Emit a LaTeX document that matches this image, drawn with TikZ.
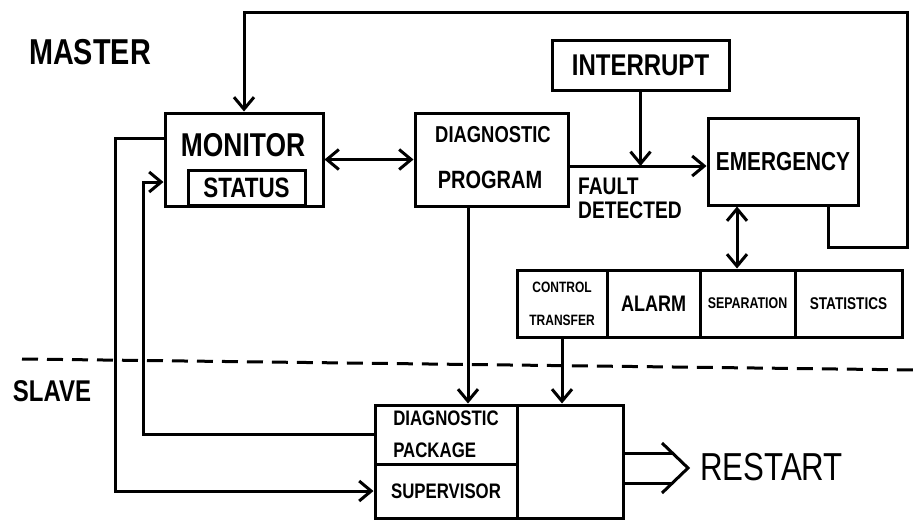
\documentclass[tikz,border=0pt]{standalone}
\usepackage{fontspec}
\setmainfont{Liberation Sans}[FakeStretch=0.8]
\usetikzlibrary{arrows.meta}

\begin{document}
\begin{tikzpicture}[x=1pt,y=1pt,yscale=-1,
  proc/.style={draw, line width=3pt, inner sep=0pt},
  hand/.style={font=\bfseries\fontsize{#1}{#1}\selectfont, inner sep=0pt},
  wire/.style={line width=3pt},
  >={Straight Barb[length=12pt,width=20pt]}]
\useasboundingbox (0,0) rectangle (918,520);

% Text Node
\node[hand=36] (master) at (90,52) {MASTER};
% Text Node
\node[hand=30] (slave) at (52,391) {SLAVE};

%Flowchart: Process
\node[proc, minimum width=158, minimum height=93] (monitor) at (244,159.5) {};
\node[hand=33] (monitorlbl) at (243,145) {MONITOR};
\node[proc, hand=28, minimum width=117, minimum height=35] (status) at (246.5,187.5) {STATUS};
%Flowchart: Process
\node[proc, minimum width=153, minimum height=93] (diagprog) at (491.5,159.5) {};
\node[hand=23] (diagproglbl) at (493,135) {DIAGNOSTIC};
\node[hand=25] (diagproglblb) at (490,180) {PROGRAM};
%Flowchart: Process
\node[proc, hand=30, minimum width=177, minimum height=50] (interrupt) at (640.5,65) {INTERRUPT};
%Flowchart: Process
\node[proc, hand=26, minimum width=150, minimum height=87] (emergency) at (783,161.5) {EMERGENCY};
% Text Node
\node[font=\bfseries\fontsize{24}{24}\selectfont, inner sep=0pt, anchor=west, align=left] (faultlbl) at (578,198) {FAULT\\DETECTED};

%Flowchart: Process (actions row)
\node[proc, font=\bfseries\fontsize{15}{33}\selectfont, align=center, minimum width=90, minimum height=67] (ctrl) at (562,303.5) {CONTROL\\TRANSFER};
\node[proc, hand=22.5, minimum width=93, minimum height=67] (alarm) at (653.5,303.5) {ALARM};
\node[proc, hand=15.5, minimum width=95, minimum height=67] (sep) at (747.5,303.5) {SEPARATION};
\node[proc, hand=17, minimum width=107, minimum height=67] (stat) at (848.5,303.5) {STATISTICS};

%Flowchart: Process (slave side)
\node[proc, font=\bfseries\fontsize{21}{32}\selectfont, align=left, minimum width=142, minimum height=59] (diagpkg) at (446,434.5) {DIAGNOSTIC\\PACKAGE};
\node[proc, hand=21, minimum width=142, minimum height=54] (superv) at (446,491) {SUPERVISOR};
\node[proc, minimum width=106, minimum height=113] (restartbox) at (570,461.5) {};
% Text Node
\node[font=\fontsize{39}{39}\selectfont, inner sep=0pt, anchor=west] (restart) at (700,467) {RESTART};

%Straight Lines
\coordinate (fbkB) at (828,247);
\coordinate (fbkT) at (907,12);
\draw[wire,->] (emergency.south -| fbkB) -- (fbkB) -| (fbkT) -| (monitor.north);
%Straight Lines
\draw[wire,<->] (monitor.east) -- (diagprog.west);
%Straight Lines
\coordinate (fault) at (640,166);
\draw[wire] (diagprog.east |- fault) -- (fault);
\draw[wire,->] (fault) -- (emergency.west |- fault);
\draw[wire,->] (interrupt.south) -- (interrupt.south |- fault);
%Straight Lines
\coordinate (emlink) at (737,0);
\draw[wire,<->] (emergency.south -| emlink) -- (sep.north -| emlink);
%Straight Lines
\draw[wire,->] (ctrl.south) -- (ctrl.south |- restartbox.north);
\coordinate (dplink) at (468,0);
\draw[wire,->] (diagprog.south -| dplink) -- (diagpkg.north -| dplink);
%Straight Lines
\coordinate (supbus) at (115,138);
\draw[wire,->] (monitor.west |- supbus) -- (supbus) |- (superv.west);
\coordinate (statbus) at (143,182);
\draw[wire,->] (diagpkg.west) -| (statbus) -- (monitor.west |- statbus);

%Dashed Line
\coordinate (divL) at (22,359);
\coordinate (divR) at (918,370);
\draw[wire, dash pattern=on 16pt off 9pt] (divL) -- (divR);

%Double Arrow
\coordinate (rsttip) at (688,468);
\draw[wire] (rsttip) ++(-16,-15) -- ++(-49,0) (rsttip) ++(-16,15) -- ++(-49,0);
\draw[wire, line join=miter] (rsttip) ++(-26,-25) -- (rsttip) -- ++(-26,25);

\end{tikzpicture}
\end{document}
